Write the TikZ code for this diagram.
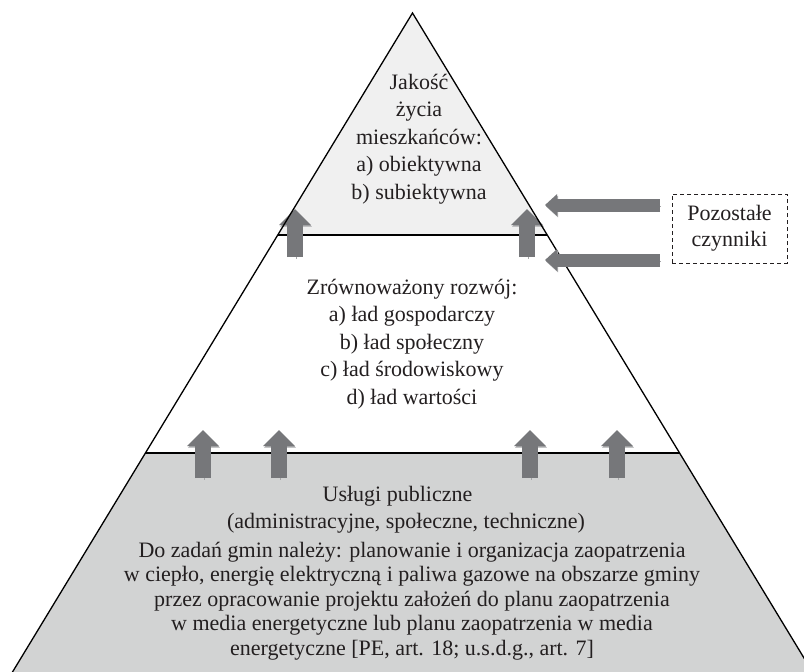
\documentclass[tikz,border=0pt]{standalone}
\usepackage{fontspec}
\setmainfont{Liberation Serif}
\usetikzlibrary{arrows.meta}
\definecolor{topfill}{RGB}{240,240,240}
\definecolor{botfill}{RGB}{210,211,211}
\definecolor{arrgray}{RGB}{118,119,122}
\definecolor{shadgray}{RGB}{165,166,168}
\definecolor{inkc}{RGB}{35,31,32}
\begin{document}
\begin{tikzpicture}[x=1pt,y=-1pt,
  edge/.style={draw=black, line width=1.3pt, line join=miter},
  divider/.style={draw=black, line width=2pt},
  uparrow/.style={draw=arrgray, line width=16pt, -{Triangle[length=16pt,width=31pt]},
    preaction={draw=shadgray, transform canvas={shift={(1pt,-1.5pt)}}}},
  leftarrow/.style={draw=arrgray, line width=13pt, -{Triangle[length=12pt,width=21pt]},
    preaction={draw=shadgray, transform canvas={shift={(1pt,-1.5pt)}}}},
  lbl/.style={align=center, text=inkc, font=\fontsize{22}{27.5}\selectfont, inner sep=0pt},
  para/.style={align=center, text=inkc, font=\fontsize{22}{24.5}\selectfont, inner sep=0pt},
  dashbox/.style={draw=inkc, dash pattern=on 4pt off 3pt, line width=1pt, minimum width=115pt, minimum height=69pt, align=center, text=inkc, font=\fontsize{22}{26}\selectfont, inner sep=0pt}
]
\clip (0,0) rectangle (804,672);
\coordinate (apex) at (412.5,13);
\coordinate (uL) at (277.7,235);
\coordinate (uR) at (547.3,235);
\coordinate (lL) at (145.4,453);
\coordinate (lR) at (679.6,453);
\coordinate (bL) at (-4.5,700);
\coordinate (bR) at (829.5,700);
\fill[topfill] (apex) -- (uL) -- (uR) -- cycle;
\fill[botfill] (lL) -- (bL) -- (bR) -- (lR) -- cycle;
\draw[divider, line width=1.5pt] (uL) -- (uR);
\draw[divider, line width=2.4pt] (lL) -- (lR);
% upward arrows
\coordinate (ua1s) at (295,257); \coordinate (ua1e) at (295,209);
\coordinate (ua2s) at (527,257); \coordinate (ua2e) at (527,209);
\coordinate (la1s) at (203,478); \coordinate (la1e) at (203,430);
\coordinate (la2s) at (279,478); \coordinate (la2e) at (279,430);
\coordinate (la3s) at (530,478); \coordinate (la3e) at (530,430);
\coordinate (la4s) at (617,478); \coordinate (la4e) at (617,430);
\draw[uparrow] (ua1s) -- (ua1e);
\draw[uparrow] (ua2s) -- (ua2e);
\draw[uparrow] (la1s) -- (la1e);
\draw[uparrow] (la2s) -- (la2e);
\draw[uparrow] (la3s) -- (la3e);
\draw[uparrow] (la4s) -- (la4e);
\draw[edge] (bL) -- (apex) -- (bR);
% other factors
\node[dashbox] (others) at (729.5,228.5) {Pozostałe\\czynniki};
\coordinate (h1s) at (660,205); \coordinate (h1e) at (545,205);
\coordinate (h2s) at (660,260); \coordinate (h2e) at (545,260);
\draw[leftarrow] (h1s) -- (h1e);
\draw[leftarrow] (h2s) -- (h2e);
% texts
\node[lbl] (quality) at (419,139) {Jakość\\życia\\mieszkańców:\\a) obiektywna\\b) subiektywna};
\node[lbl] (sustain) at (412,344) {Zrównoważony rozwój:\\a) ład gospodarczy\\b) ład społeczny\\c) ład środowiskowy\\d) ład wartości};
\node[lbl] (services) at (397.5,496) {Usługi publiczne};
\node[lbl] (types) at (406,523) {(administracyjne, społeczne, techniczne)};
\node[para] (tasks) at (412,601) {Do zadań gmin należy: planowanie i organizacja zaopatrzenia\\w ciepło, energię elektryczną i paliwa gazowe na obszarze gminy\\przez opracowanie projektu założeń do planu zaopatrzenia\\w media energetyczne lub planu zaopatrzenia w media\\energetyczne [PE, art. 18; u.s.d.g., art. 7]};
\end{tikzpicture}
\end{document}
